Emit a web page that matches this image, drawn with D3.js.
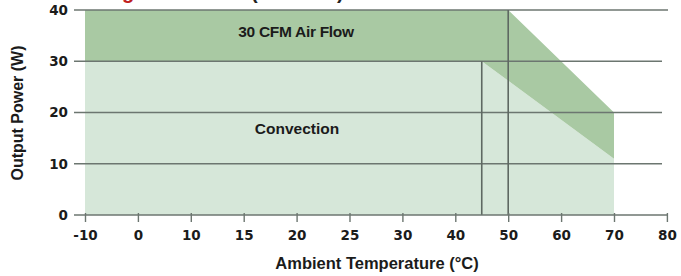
<!DOCTYPE html>
<html><head><meta charset="utf-8">
<script src="https://cdn.jsdelivr.net/npm/d3@7"></script>
<style>
html,body{margin:0;padding:0;background:#fff;}
svg{display:block;}
</style></head>
<body>
<svg id="chart" width="681" height="276"></svg>
<script>
// ---- data ----
const xTicks = [-10, 0, 10, 15, 20, 25, 30, 40, 50, 60, 70, 80];
const yTicks = [0, 10, 20, 30, 40];
// Convection derating boundary (temperature, watts)
const convectionTemp = [-10, 45, 70, 70, -10];
const convectionPower = [30, 30, 11, 0, 0];
// 30 CFM air flow boundary
const airflowTemp = [-10, 50, 70, 70, 45, -10];
const airflowPower = [40, 40, 20, 11, 30, 30];
// derating knee markers
const kneeTemp = [45, 50];
const kneePower = [30, 40];
const xLabel = "Ambient Temperature (°C)";
const yLabel = "Output Power (W)";
const airflowLabel = "30 CFM Air Flow";
const convectionLabel = "Convection";

const svg = d3.select("#chart");
const x0 = 85, step = 52.9;
const x = d3.scaleLinear().domain(xTicks).range(xTicks.map((d, i) => x0 + i * step));
const y = d3.scaleLinear().domain([0, 40]).range([215, 10]);

// title fragments (cut off at top of image, as in the reference)
svg.append("text").attr("x", 122).attr("y", -1).attr("fill", "#c0201c")
  .attr("font-family", "Liberation Sans, Arial, sans-serif").attr("font-weight", "bold").attr("font-size", 20).text("g");
svg.append("text").attr("x", 251).attr("y", -1).attr("fill", "#222")
  .attr("font-family", "Liberation Sans, Arial, sans-serif").attr("font-weight", "bold").attr("font-size", 20).text("(");
svg.append("text").attr("x", 337).attr("y", -1).attr("fill", "#222")
  .attr("font-family", "Liberation Sans, Arial, sans-serif").attr("font-weight", "bold").attr("font-size", 20).text(")");

const line = d3.line().x(d => x(d[0])).y(d => y(d[1]));
const conv = convectionTemp.map((t, i) => [t, convectionPower[i]]);
const air = airflowTemp.map((t, i) => [t, airflowPower[i]]);

svg.append("path").attr("d", line(conv) + "Z").attr("fill", "#d6e7d9");
svg.append("path").attr("d", line(air) + "Z").attr("fill", "#a9c9a3");

// horizontal grid lines
const gridColor = "#6c7670";
yTicks.filter(d => d > 0).forEach(v => {
  svg.append("line").attr("x1", 74).attr("x2", v === 40 ? 668 : 662)
    .attr("y1", y(v)).attr("y2", y(v))
    .attr("stroke", gridColor).attr("stroke-width", 1.6);
});

// knee vertical lines
kneeTemp.forEach((t, i) => {
  svg.append("line").attr("x1", x(t)).attr("x2", x(t))
    .attr("y1", y(kneePower[i])).attr("y2", y(0))
    .attr("stroke", "#5e6862").attr("stroke-width", 1.6);
});

// x axis
const xAxis = d3.axisBottom(x).tickValues(xTicks).tickFormat(d => String(d))
  .tickSize(7).tickPadding(8).tickSizeOuter(0);
const gx = svg.append("g").attr("transform", `translate(0,${y(0)})`).call(xAxis);
gx.select(".domain").remove();
gx.append("line").attr("x1", 74).attr("x2", 668).attr("y1", 0).attr("y2", 0)
  .attr("stroke", gridColor).attr("stroke-width", 1.6);
gx.selectAll(".tick line").attr("stroke", gridColor).attr("stroke-width", 1.4).attr("y1", -2);
gx.selectAll(".tick text").attr("fill", "#1b1b1b")
  .attr("font-family", "DejaVu Sans, sans-serif").attr("font-weight", "bold").attr("font-size", 13.5);

// y axis labels
const yAxis = d3.axisLeft(y).tickValues(yTicks).tickFormat(d => String(d)).tickSize(0).tickPadding(0);
const gy = svg.append("g").attr("transform", "translate(68,0)").call(yAxis);
gy.select(".domain").remove();
gy.selectAll(".tick text").attr("fill", "#1b1b1b")
  .attr("font-family", "DejaVu Sans, sans-serif").attr("font-weight", "bold").attr("font-size", 13.5);

// axis titles
svg.append("text").attr("x", 377).attr("y", 269).attr("text-anchor", "middle")
  .attr("fill", "#1b1b1b").attr("font-family", "Liberation Sans, Arial, sans-serif")
  .attr("font-weight", "bold").attr("font-size", 16.5).text(xLabel);
svg.append("text").attr("transform", "translate(23,113) rotate(-90)").attr("text-anchor", "middle")
  .attr("fill", "#1b1b1b").attr("font-family", "Liberation Sans, Arial, sans-serif")
  .attr("font-weight", "bold").attr("font-size", 16).text(yLabel);

// region labels
svg.append("text").attr("x", 296).attr("y", 37).attr("text-anchor", "middle")
  .attr("fill", "#1b1b1b").attr("font-family", "Liberation Sans, Arial, sans-serif")
  .attr("font-weight", "bold").attr("font-size", 15.5).attr("letter-spacing", -0.3).text(airflowLabel);
svg.append("text").attr("x", 297).attr("y", 134).attr("text-anchor", "middle")
  .attr("fill", "#1b1b1b").attr("font-family", "Liberation Sans, Arial, sans-serif")
  .attr("font-weight", "bold").attr("font-size", 15.5).text(convectionLabel);
</script>
</body></html>
